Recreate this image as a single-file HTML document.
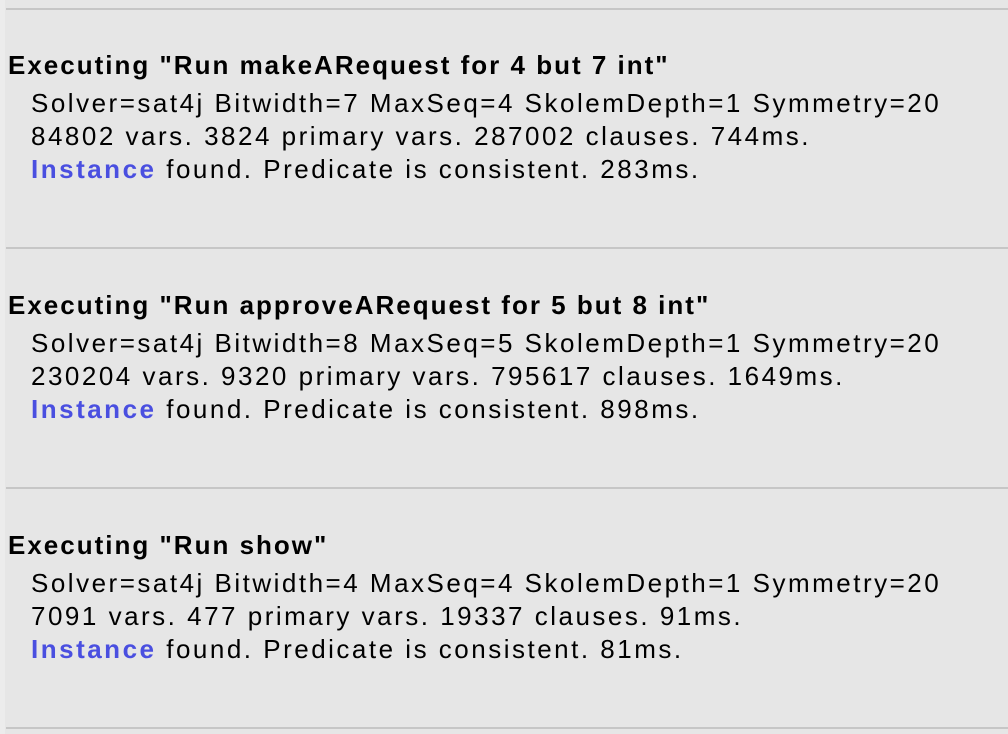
<!DOCTYPE html>
<html><head><style>
html,body{margin:0;padding:0;width:1008px;height:734px;background:#e6e6e6;overflow:hidden;position:relative;font-family:"Liberation Sans",sans-serif;}
.strip{position:absolute;left:0;top:0;width:5px;height:734px;background:#ececec;}
.hr{position:absolute;left:6px;right:0;height:2px;background:#c6c6c6;}
.t{position:absolute;white-space:nowrap;color:#000;}
.h{left:8px;font-weight:bold;font-size:26px;letter-spacing:2px;}
.b{left:31px;font-size:26px;letter-spacing:2.5px;}
.i{color:#4a4fe0;font-weight:bold;}
</style></head><body>
<div class="strip"></div>
<div class="hr" style="top:8px"></div>
<div class="hr" style="top:247px"></div>
<div class="hr" style="top:487px"></div>
<div class="hr" style="top:727px"></div>

<div class="t h" style="top:50px">Executing "Run makeARequest for 4 but 7 int"</div>
<div class="t b" style="top:88px">Solver=sat4j Bitwidth=7 MaxSeq=4 SkolemDepth=1 Symmetry=20</div>
<div class="t b" style="top:121px">84802 vars. 3824 primary vars. 287002 clauses. 744ms.</div>
<div class="t b" style="top:154px"><span class="i">Instance</span> found. Predicate is consistent. 283ms.</div>

<div class="t h" style="top:290px">Executing "Run approveARequest for 5 but 8 int"</div>
<div class="t b" style="top:328px">Solver=sat4j Bitwidth=8 MaxSeq=5 SkolemDepth=1 Symmetry=20</div>
<div class="t b" style="top:361px">230204 vars. 9320 primary vars. 795617 clauses. 1649ms.</div>
<div class="t b" style="top:394px"><span class="i">Instance</span> found. Predicate is consistent. 898ms.</div>

<div class="t h" style="top:530px">Executing "Run show"</div>
<div class="t b" style="top:568px">Solver=sat4j Bitwidth=4 MaxSeq=4 SkolemDepth=1 Symmetry=20</div>
<div class="t b" style="top:601px">7091 vars. 477 primary vars. 19337 clauses. 91ms.</div>
<div class="t b" style="top:634px"><span class="i">Instance</span> found. Predicate is consistent. 81ms.</div>
</body></html>
